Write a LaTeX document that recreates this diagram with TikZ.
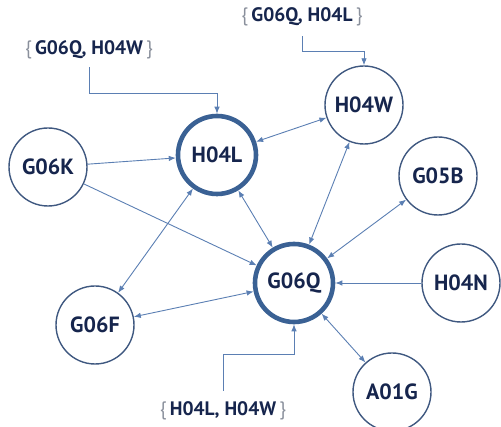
\documentclass[tikz,border=0pt]{standalone}
\usepackage{fontspec}
\setmainfont{PT Sans}
\usetikzlibrary{arrows.meta}
\definecolor{ring}{HTML}{3F5880}
\definecolor{hubring}{HTML}{3A6194}
\definecolor{edge}{HTML}{5B7FB3}
\definecolor{txt}{HTML}{16254D}
\definecolor{brace}{HTML}{8A909C}
\newcommand{\codeset}[1]{\textcolor{brace}{\{}\,\textbf{#1}\,\textcolor{brace}{\}}}

\begin{document}
\begin{tikzpicture}[x=1pt,y=-1pt,
    cpc/.style={circle,draw=ring,line width=1.4pt,minimum size=78pt,inner sep=0pt,
        fill=white,text=txt,font=\fontsize{22}{22}\selectfont\bfseries},
    hub/.style={cpc,draw=hubring,line width=4.6pt},
    link/.style={draw=edge,line width=0.9pt,-{Latex[length=7pt,width=5.5pt]}},
    both/.style={link,{Latex[length=7pt,width=5.5pt]}-{Latex[length=7pt,width=5.5pt]}},
    setlabel/.style={text=txt,inner sep=1pt,font=\fontsize{19.5}{19.5}\selectfont}]
    \useasboundingbox (0,0) rectangle (501,427);

    \node[hub] (H04L) at (217,155) {H04L};
    \node[hub] (G06Q) at (294,283) {G06Q};
    \node[cpc] (H04W) at (364,105) {H04W};
    \node[cpc] (G05B) at (438,176) {G05B};
    \node[cpc] (G06K) at (48,167) {G06K};
    \node[cpc] (G06F) at (95,325) {G06F};
    \node[cpc] (H04N) at (461,283) {H04N};
    \node[cpc] (A01G) at (392,392) {A01G};

    \node[setlabel] (setL) at (89,50) {\codeset{G06Q, H04W}};
    \node[setlabel] (setW) at (302,17) {\codeset{G06Q, H04L}};
    \node[setlabel] (setQ) at (223,411) {\codeset{H04L, H04W}};

    \draw[link] ([yshift=-7pt]setL.south) -- ([yshift=-33pt]setL.south) -| (H04L.north);
    \draw[link] ([yshift=-9pt]setW.south) -- ([yshift=-24pt]setW.south) -| (H04W.north);
    \draw[link] ([yshift=10pt]setQ.north) -- ([yshift=46pt]setQ.north) -| (G06Q.south);

    \draw[link] (G06K) -- (H04L);
    \draw[link] (G06K) -- (G06Q);
    \draw[link] (H04N) -- (G06Q);
    \draw[both] (H04L) -- (H04W);
    \draw[both] (H04L) -- (G06Q);
    \draw[both] (H04L) -- (G06F);
    \draw[both] (H04W) -- (G06Q);
    \draw[both] (G05B) -- (G06Q);
    \draw[both] (G06F) -- (G06Q);
    \draw[both] (A01G) -- (G06Q);
\end{tikzpicture}
\end{document}
